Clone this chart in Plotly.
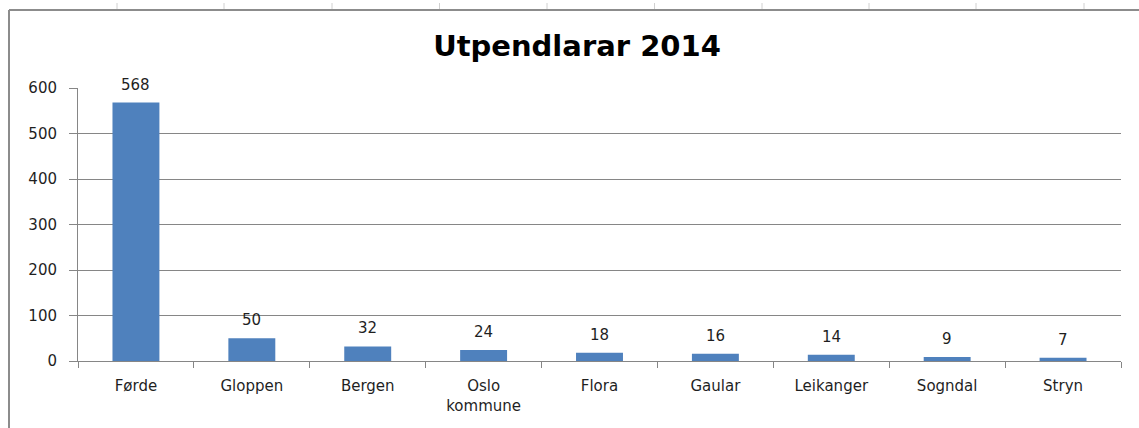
import plotly.graph_objects as go

categories = ["Førde", "Gloppen", "Bergen", "Oslo<br>kommune", "Flora", "Gaular", "Leikanger", "Sogndal", "Stryn"]
values = [568, 50, 32, 24, 18, 16, 14, 9, 7]
y_ticks = [0, 100, 200, 300, 400, 500, 600]

W, H = 1139, 428
L, R, T, B = 78, 1121, 88, 361
FONT = "DejaVu Sans, Verdana, sans-serif"
TXT = "#1f1f1f"

def px_x(p):
    return (p - L) / (R - L)

def px_y(p):
    return (B - p) / (B - T)

fig = go.Figure(go.Bar(
    x=categories, y=values,
    marker=dict(color="#4F81BD", line=dict(width=0)),
    cliponaxis=False,
    hoverinfo="skip",
))

annotations = [
    dict(x=c, y=v, text=str(v), xref="x", yref="y", showarrow=False, yanchor="bottom", yshift=7,
         font=dict(family=FONT, size=15, color=TXT))
    for c, v in zip(categories, values)
]

shapes = [
    dict(type="line", xref="paper", yref="paper", x0=px_x(9), x1=px_x(1300), y0=px_y(10), y1=px_y(10),
         line=dict(color="#8c8c8c", width=2), layer="below"),
    dict(type="line", xref="paper", yref="paper", x0=px_x(9), x1=px_x(9), y0=px_y(10), y1=px_y(500),
         line=dict(color="#8c8c8c", width=2), layer="below"),
]
for p in [117, 224, 332, 439.5, 547, 654.5, 762, 869, 976, 1084]:
    shapes.append(dict(type="line", xref="paper", yref="paper", x0=px_x(p), x1=px_x(p), y0=px_y(3), y1=px_y(9),
                       line=dict(color="#d0d0d0", width=1)))

fig.update_layout(
    width=W, height=H,
    margin=dict(l=L, r=W - R, t=T, b=H - B, pad=0),
    paper_bgcolor="white", plot_bgcolor="white",
    bargap=0.595,
    showlegend=False,
    title=dict(text="<b>Utpendlarar 2014</b>", x=577 / W, xanchor="center", y=1 - 46 / H, yanchor="middle",
               font=dict(family=FONT, size=29, color="#000000")),
    font=dict(family=FONT, size=15, color=TXT),
    shapes=shapes,
    annotations=annotations,
    xaxis=dict(
        automargin=False,
        showline=True, linecolor="#868686", linewidth=1,
        ticks="outside", ticklen=6, tickcolor="#868686", tickson="boundaries",
        ticklabelstandoff=11, showgrid=False, tickfont=dict(family=FONT, size=15, color=TXT),
        range=[-0.5, 8.5],
    ),
    yaxis=dict(
        automargin=False,
        range=[0, 600], tickvals=y_ticks, showline=True, linecolor="#868686", linewidth=1,
        ticks="outside", ticklen=8, tickcolor="#868686",
        showgrid=True, gridcolor="#868686", gridwidth=1, zeroline=False,
        ticklabelstandoff=9, tickfont=dict(family=FONT, size=15, color=TXT),
    ),
)

fig.write_html(
    "out.html",
    config={"displayModeBar": False},
    post_script="document.body.style.margin='0';document.body.style.overflow='hidden';",
)
